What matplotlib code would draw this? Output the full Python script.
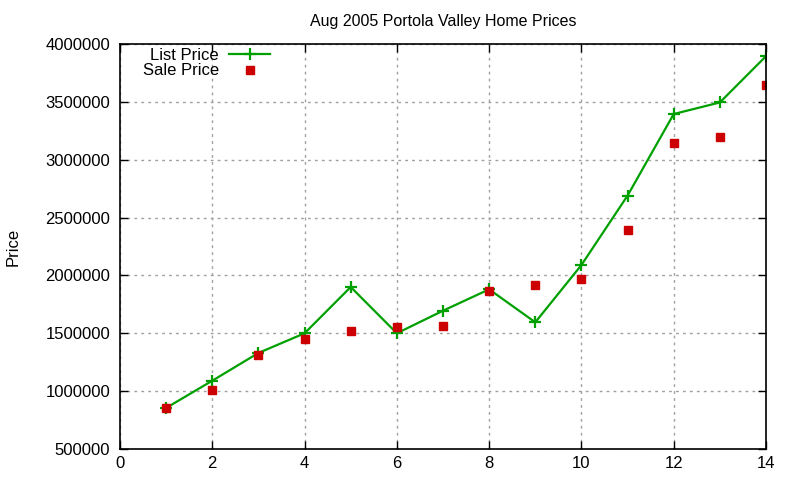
import matplotlib
matplotlib.use("Agg")
import matplotlib.pyplot as plt

# house index (sorted by list price)
house = [1, 2, 3, 4, 5, 6, 7, 8, 9, 10, 11, 12, 13, 14]
list_price = [855000, 1090000, 1330000, 1500000, 1900000, 1500000, 1695000,
              1880000, 1595000, 2090000, 2690000, 3395000, 3495000, 3895000]
sale_price = [855000, 1010000, 1312000, 1450000, 1520000, 1554000, 1563000,
              1868000, 1917000, 1969000, 2392000, 3144000, 3196000, 3645000]

x_ticks = [0, 2, 4, 6, 8, 10, 12, 14]
y_ticks = [500000, 1000000, 1500000, 2000000, 2500000, 3000000, 3500000, 4000000]

plt.rcParams['font.family'] = ['Liberation Sans', 'DejaVu Sans']

fig = plt.figure(figsize=(8, 4.8), dpi=100)
ax = fig.add_axes([0.15, 0.0646, 0.8075, 0.8437])

ax.plot(house, list_price, color='#00a000', linewidth=1.6, marker='+',
        markersize=8, markeredgewidth=1.6, label='List Price')
ax.plot(house, sale_price, linestyle='none', color='#cc0000', marker='s',
        markersize=6, label='Sale Price')

ax.set_xlim(0, 14)
ax.set_ylim(500000, 4000000)
ax.set_xticks(x_ticks)
ax.set_yticks(y_ticks)
ax.set_yticklabels([str(v) for v in y_ticks])
ax.tick_params(direction='in', top=True, right=True, length=6, width=1,
               labelsize=12, pad=7)
ax.tick_params(axis='x', pad=5)
ax.grid(True, color='#a0a0a0', linestyle=(0, (2, 3)), linewidth=1)
for s in ax.spines.values():
    s.set_linewidth(1.2)

ax.set_title('Aug 2005 Portola Valley Home Prices', fontsize=11.5, pad=13)
ax.set_ylabel('Price', fontsize=12, labelpad=18)

ax.legend(loc='upper left', bbox_to_anchor=(0.017, 1.02), frameon=False,
          markerfirst=False, fontsize=12, handlelength=2.5,
          labelspacing=0.05, borderaxespad=0.3, handletextpad=0.6)

fig.savefig('out.png', dpi=100)
